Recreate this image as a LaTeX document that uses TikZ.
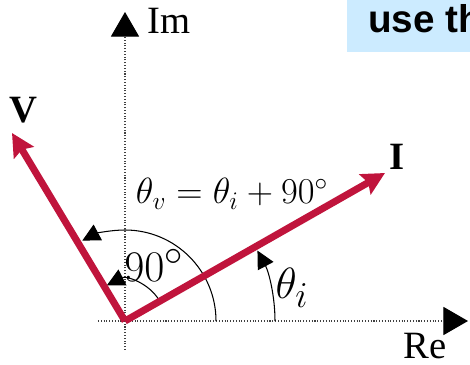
\documentclass[tikz,border=0pt]{standalone}
\usepackage{fontspec}
\setmainfont{Liberation Serif}
\newfontfamily\boxfont{Liberation Sans}
\usepackage{xcolor}
\usetikzlibrary{arrows.meta, positioning}

\definecolor{phasorred}{HTML}{C0143C}
\definecolor{noteblue}{HTML}{CCEBFF}

\begin{document}
\begin{tikzpicture}[x=0.02cm, y=0.02cm,
  axis/.style={densely dotted, line width=0.6pt, black!75,
    -{Triangle[length=14pt, width=16pt, black]}},
  phasor/.style={phasorred, line width=4pt,
    -{Stealth[length=13pt, width=13pt, inset=2pt]}},
  angarc/.style={line width=0.6pt, -{Triangle[length=10pt, width=10pt]}},
  lbl/.style={font=\fontsize{22}{26}\selectfont, inner sep=0pt},
  mlbl/.style={font=\fontsize{24.88}{28}\selectfont, inner sep=0pt}]
\useasboundingbox (-125,-44) rectangle (345,321);

% 注释框 (右上角, 被裁切)
\fill[noteblue] (222,269) rectangle (350,330);
\node[anchor=base west, inner sep=0pt, font=\boxfont\bfseries\fontsize{22}{26}\selectfont]
  (note) at (243,288) {use th};

% 坐标轴
\coordinate (O) at (0,0);
\coordinate (reL) at (-27,0);
\coordinate (reR) at (343,0);
\coordinate (imB) at (0,-29);
\coordinate (imT) at (0,309);
\draw[axis] (reL) -- (reR);
\draw[axis] (imB) -- (imT);
\node[lbl, anchor=west] (im) at (22,300) {Im};
\node[lbl] (re) at (300,-25) {Re};

% 角度弧
\draw[angarc] (0:150) arc (0:28:150);
\draw[angarc] (0:91) arc (0:118:91);
\draw[angarc] (30:40) arc (30:117:40);

% 相量 V, I
\coordinate (Vtip) at (-113,188);
\coordinate (Itip) at (260,148);
\draw[phasor] (O) -- (Vtip);
\draw[phasor] (O) -- (Itip);
\node[lbl] (V) at (-102,211) {\textbf{V}};
\node[lbl] (I) at (272,164) {\textbf{I}};

% 角度标注
\node[mlbl, font=\fontsize{20.74}{25}\selectfont] (eq) at (107,127)
  {$\theta_v = \theta_i + 90^\circ$};
\node[mlbl] (ninety) at (29,56) {$90^\circ$};
\node[mlbl] (thi) at (167,33) {$\theta_i$};
\end{tikzpicture}
\end{document}
